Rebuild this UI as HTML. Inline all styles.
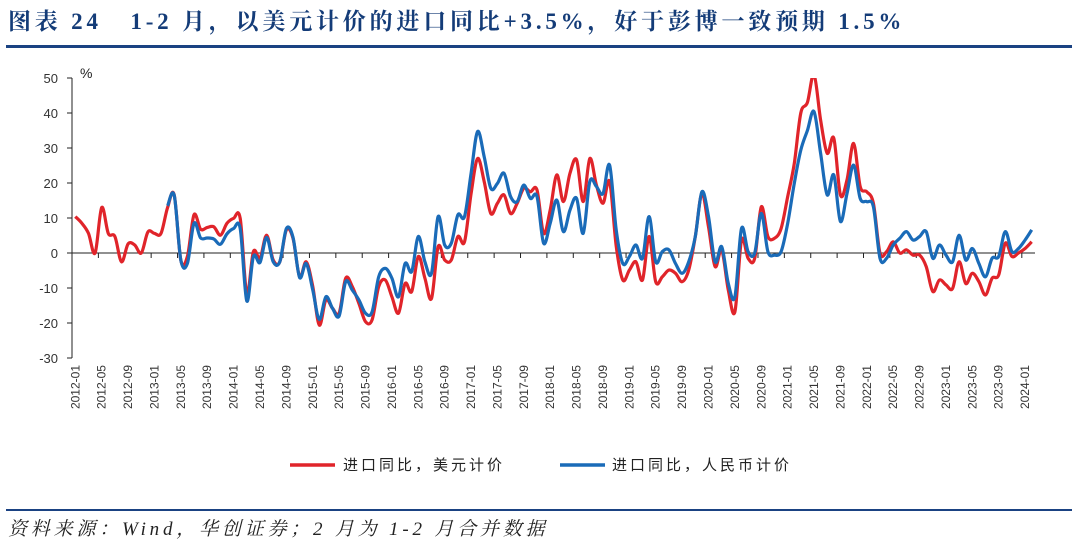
<!DOCTYPE html>
<html><head><meta charset="utf-8">
<style>
body{margin:0;background:#fff;width:1080px;height:546px;overflow:hidden;position:relative;font-family:"Liberation Serif","Noto Serif CJK SC",serif;}
#title{position:absolute;left:8px;top:3px;font-size:23px;font-weight:bold;color:#143c78;white-space:pre;letter-spacing:3.8px;}
#rule-top{position:absolute;left:6px;top:45px;width:1066px;height:3px;background:#1a4282;}
#rule-bot{position:absolute;left:6px;top:509px;width:1066px;height:2px;background:#1a4282;}
#source{position:absolute;left:8px;top:514px;font-size:19px;font-style:italic;color:#222;letter-spacing:3.8px;font-family:"Liberation Serif","Noto Serif CJK SC",serif;}
svg{position:absolute;left:0;top:0;}
</style></head><body>
<div id="title">图表 24   1-2 月，以美元计价的进口同比+3.5%，好于彭博一致预期 1.5%</div>
<div id="rule-top"></div>
<svg id="chart" width="1080" height="546"></svg>
<div id="rule-bot"></div>
<div id="source">资料来源：Wind，华创证券；2 月为 1-2 月合并数据</div>
<script>
const yTicks=[50,40,30,20,10,0,-10,-20,-30];
const usdValues=[10.4,8.5,5.6,0,13,5.6,4.7,-2.5,2.6,2.3,0,6,5.6,5.6,13,16.6,-2,-1,10.9,6.8,7.3,7.5,5.1,8.5,9.9,9.9,-11.7,0.4,-1.5,5.1,-2,-2.5,6.6,4.2,-6.8,-2.5,
-9.6,-20.6,-13.4,-15.8,-17.2,-7.2,-9.6,-14.4,-19.6,-19.1,-9.6,-7.7,-12.5,-17.2,-8.7,-11,-1,-7.2,-13,1.8,-2,-2,4.7,3.2,17,27,20.4,11.3,14.2,16.6,11.3,14.2,18.5,17.5,18,5.6,
12.3,22.3,14.7,22.8,26.6,14.7,27,19.4,14.2,20.4,2,-7.7,-4.9,-2.5,-7.7,4.7,-8.2,-6.8,-4.9,-5.8,-8.2,-4.9,4.7,17,7.5,-3.9,0.9,-10.6,-16.8,3.7,-1.5,-1.5,13.2,4.7,4.2,7,
16.1,25.6,40,43,51,38,28.5,32.8,16.6,20.9,31.3,19,17.5,14.2,0,0.4,3.2,0,0.9,-0.6,-0.6,-3.9,-11,-7.7,-9.1,-10.1,-2.5,-8.7,-5.8,-8.2,-12,-7.2,-6.3,2.8,-1,0,1.3,3.2];
const cnyValues=[null,null,null,null,null,null,null,null,null,null,null,null,null,null,13.5,16.5,-2,-3,8.5,4.3,4.3,4,2.5,5.5,7,7,-13.7,-1,-2.7,4.5,-2.5,-2.5,7,4.5,-7,-3,
-10.6,-19,-12.5,-15.8,-18,-8.2,-10.6,-13.4,-17.2,-16.8,-6.8,-4.4,-7.2,-12.5,-3,-5.3,4.7,-2.5,-5.8,10.4,2.3,2.8,10.9,10.4,22.8,34.7,27.5,18.5,19.9,22.8,16.1,14.7,19.4,15.6,16.1,2.8,
8.5,15.1,6.1,12.3,15.6,5.6,20.4,19,17,25.1,6.6,-3,-1,2.3,-1.5,10.4,-2.5,0.4,0.9,-3,-5.8,-2.5,4.7,17.5,10.4,-2.5,1.8,-8.7,-12.5,7,0.4,0,11.3,0.4,-0.6,0.4,
8.5,19.9,29.4,35,40.4,28.5,16.6,22.3,9,17,25.1,15.6,14.7,13.2,-1.5,-1.5,2.3,4.2,6.1,3.7,4.7,6.1,-1.5,2.3,-0.6,-2.5,5.1,-2,1.3,-3,-6.8,-1.5,-1,6.1,0.4,1.3,3.7,6.6];
const categories=[];
for(let y=2012;y<=2024;y++){for(let m=1;m<=12;m++){categories.push(y+'-'+String(m).padStart(2,'0'));}}
categories.length=146;

const NS='http://www.w3.org/2000/svg';
const svg=document.getElementById('chart');
const X0=72,X1=1035,Y0=78,Y1=358,VMAX=50,VMIN=-30;
const bw=(X1-X0)/categories.length;
function xPos(i){return X0+(i+0.5)*bw;}
function yPos(v){return Y0+(VMAX-v)/(VMAX-VMIN)*(Y1-Y0);}
function mk(tag,attrs){const e=document.createElementNS(NS,tag);for(const k in attrs)e.setAttribute(k,attrs[k]);svg.appendChild(e);return e;}

const ya=mk('line',{x1:X0,y1:Y0,x2:X0,y2:Y1,stroke:'#222','stroke-width':1});


yTicks.forEach(v=>{
  const t=mk('line',{x1:X0-5,y1:yPos(v),x2:X0,y2:yPos(v),stroke:'#222','stroke-width':1});
  
  
  const l=mk('text',{x:X0-14,y:yPos(v)+5,'text-anchor':'end','font-size':13,fill:'#333','font-family':'Liberation Sans, sans-serif'});
  l.textContent=v;
  
  
});
const pct=mk('text',{x:80,y:78,'font-size':14,fill:'#222','font-family':'Liberation Sans, sans-serif'});
pct.textContent='%';


const xa=mk('line',{x1:X0,y1:yPos(0),x2:X1,y2:yPos(0),stroke:'#222','stroke-width':1});


for(let i=0;i<categories.length;i+=4){
  const tx=X0+i*bw;
  if(i>0){
    const t=mk('line',{x1:tx,y1:yPos(0),x2:tx,y2:yPos(0)+5,stroke:'#222','stroke-width':1});
    
    
  }
  const cx=xPos(i)+4;
  const l=mk('text',{x:cx,y:365,'text-anchor':'end','font-size':12,fill:'#333','font-family':'Liberation Sans, sans-serif',transform:'rotate(-90 '+cx+' 365)'});
  l.textContent=categories[i];
  
  
}
function smoothPath(vals){
  const pts=[];vals.forEach((v,i)=>{if(v!==null)pts.push([xPos(i),yPos(v)]);});
  let d='M'+pts[0][0].toFixed(1)+','+pts[0][1].toFixed(1);
  for(let k=0;k<pts.length-1;k++){
    const p0=pts[Math.max(0,k-1)],p1=pts[k],p2=pts[k+1],p3=pts[Math.min(pts.length-1,k+2)];
    const c1=[p1[0]+(p2[0]-p0[0])/6,p1[1]+(p2[1]-p0[1])/6];
    const c2=[p2[0]-(p3[0]-p1[0])/6,p2[1]-(p3[1]-p1[1])/6];
    d+='C'+c1[0].toFixed(1)+','+c1[1].toFixed(1)+' '+c2[0].toFixed(1)+','+c2[1].toFixed(1)+' '+p2[0].toFixed(1)+','+p2[1].toFixed(1);
  }
  return d;
}
const cp=document.createElementNS(NS,'clipPath');cp.setAttribute('id','clip');
const cr=document.createElementNS(NS,'rect');cr.setAttribute('x',X0);cr.setAttribute('y',Y0);cr.setAttribute('width',X1-X0+5);cr.setAttribute('height',Y1-Y0);
cp.appendChild(cr);svg.appendChild(cp);
const redLine=mk('path',{d:smoothPath(usdValues),fill:'none',stroke:'#e0242a','stroke-width':3.2,'stroke-linejoin':'round','clip-path':'url(#clip)'});


const blueLine=mk('path',{d:smoothPath(cnyValues),fill:'none',stroke:'#1a6bb8','stroke-width':3.2,'stroke-linejoin':'round','clip-path':'url(#clip)'});


const lg1=mk('line',{x1:290,y1:465,x2:335,y2:465,stroke:'#e0242a','stroke-width':3.5});


const lt1=mk('text',{x:343,y:470,'font-size':15,'letter-spacing':3,fill:'#222','font-family':'Liberation Sans, Noto Sans CJK SC, sans-serif'});
lt1.textContent='进口同比，美元计价';


const lg2=mk('line',{x1:560,y1:465,x2:605,y2:465,stroke:'#1a6bb8','stroke-width':3.5});


const lt2=mk('text',{x:612,y:470,'font-size':15,'letter-spacing':3,fill:'#222','font-family':'Liberation Sans, Noto Sans CJK SC, sans-serif'});
lt2.textContent='进口同比，人民币计价';


</script>
</body></html>
